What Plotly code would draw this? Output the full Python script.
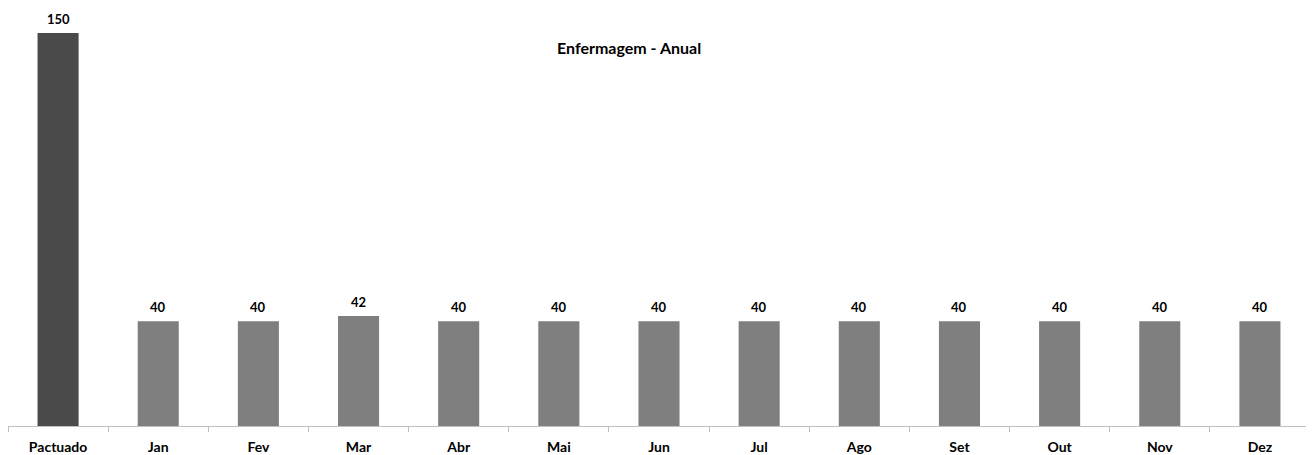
import plotly.graph_objects as go

categories = ["Pactuado", "Jan", "Fev", "Mar", "Abr", "Mai", "Jun", "Jul", "Ago", "Set", "Out", "Nov", "Dez"]
values = [150, 40, 40, 42, 40, 40, 40, 40, 40, 40, 40, 40, 40]
title_text = "Enfermagem - Anual"

colors = ["#4a4a4a"] + ["#7f7f7f"] * (len(categories) - 1)
FONT = "Lato"

fig = go.Figure(go.Bar(
    x=categories, y=values,
    marker=dict(color=colors, line=dict(width=0)),
    cliponaxis=False,
))

annotations = [dict(text="<b>" + title_text + "</b>", x=0.477, y=0.964, xref="paper", yref="paper",
                    yanchor="middle", showarrow=False,
                    font=dict(family=FONT, size=16, color="#000000"))]
for c, v in zip(categories, values):
    annotations.append(dict(x=c, y=v, xref="x", yref="y", text="<b>%d</b>" % v,
                            yanchor="bottom", yshift=4, showarrow=False,
                            font=dict(family=FONT, size=13, color="#000000")))

# page body has an 8px margin: figure origin sits at (8, 8)
fig.update_layout(
    width=1306, height=447,
    margin=dict(l=0, r=4, t=25, b=29),
    paper_bgcolor="white", plot_bgcolor="white",
    bargap=0.59,
    showlegend=False,
    font=dict(family=FONT, size=13, color="#000000"),
    annotations=annotations,
)
fig.update_xaxes(
    showline=True, linecolor="#bfbfbf", linewidth=1,
    ticks="outside", tickson="boundaries", ticklen=5, tickcolor="#bfbfbf",
    ticklabelstandoff=8,
    tickfont=dict(family=FONT, size=14, color="#000000", weight="bold"),
    showgrid=False,
)
fig.update_yaxes(range=[0, 150], visible=False, showgrid=False)

fig.write_html("out.html")
